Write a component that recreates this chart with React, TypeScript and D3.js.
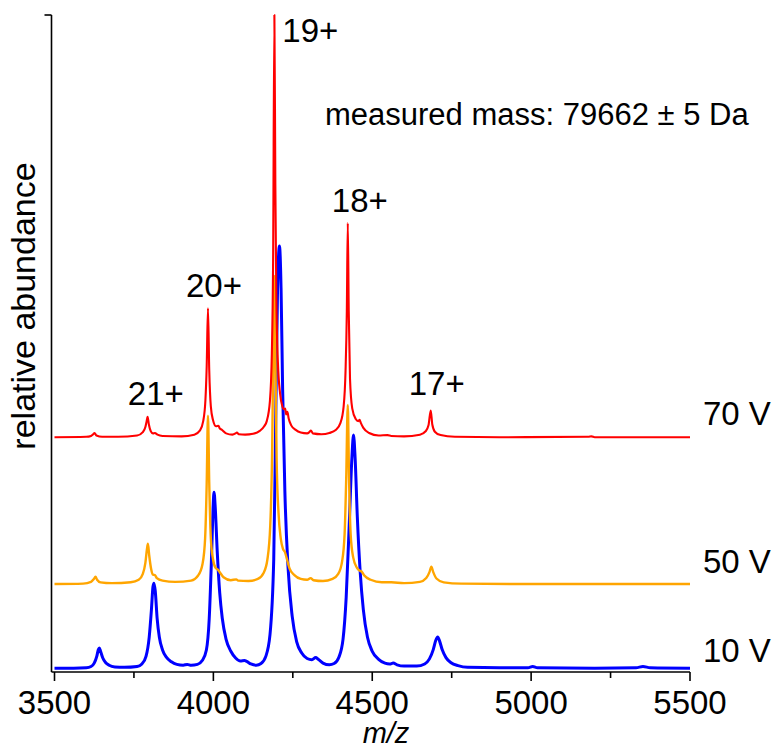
import * as d3 from 'd3'

// m/z range and the relative-abundance range of the stacked traces
const X_DOMAIN: [number, number] = [3500, 5500]
const Y_DOMAIN: [number, number] = [-0.7, 154.6]
const MAJOR_TICKS = [3500, 4000, 4500, 5000, 5500]
const MINOR_TICKS = [3750, 4250, 4750, 5250]

// 10 V trace, [m/z, abundance]
const SPEC_10V: [number, number][] = [
  [3500, 0.2], [3560, 0.2], [3600, 0.3], [3615, 0.6], [3625, 1.4], [3633, 3.0], [3638, 4.6], [3641, 5.0],
  [3645, 4.2], [3652, 2.6], [3660, 1.6], [3672, 0.9], [3690, 0.5], [3720, 0.4], [3760, 0.6], [3775, 1.2],
  [3788, 3.0], [3798, 7.5], [3805, 14], [3810, 19.5], [3813, 20.3], [3817, 18.5], [3823, 12], [3830, 7.5],
  [3840, 4.5], [3852, 2.8], [3868, 1.7], [3885, 1.1], [3905, 0.9], [3918, 1.1], [3930, 0.9], [3950, 1.1],
  [3965, 2.0], [3978, 4.5], [3987, 12], [3994, 26], [3999, 38], [4002, 41.8], [4006, 38], [4012, 28],
  [4020, 18], [4028, 12], [4040, 7], [4055, 4.2], [4070, 2.6], [4085, 1.9], [4098, 2.0], [4105, 1.8],
  [4118, 1.2], [4135, 0.9], [4150, 1.3], [4165, 3.0], [4178, 8], [4190, 26], [4196, 58], [4202, 90],
  [4208, 100], [4213, 90], [4218, 66], [4225, 42], [4235, 24], [4248, 12.5], [4262, 6.5], [4278, 3.8],
  [4295, 2.5], [4310, 2.2], [4322, 2.7], [4330, 2.3], [4345, 1.4], [4365, 1.0], [4380, 1.3], [4395, 2.8],
  [4408, 7], [4418, 17], [4428, 35], [4436, 50], [4441, 55.3], [4446, 50], [4453, 36], [4462, 23],
  [4472, 14], [4485, 7.5], [4500, 4.2], [4520, 2.3], [4540, 1.4], [4555, 1.2], [4566, 1.4], [4578, 1.0],
  [4600, 0.7], [4640, 0.7], [4665, 1.2], [4680, 2.4], [4692, 4.6], [4700, 6.8], [4706, 7.6], [4712, 6.6],
  [4720, 4.6], [4732, 2.7], [4748, 1.5], [4770, 0.8], [4800, 0.4], [4900, 0.3], [4990, 0.3], [5005, 0.6],
  [5020, 0.3], [5200, 0.2], [5330, 0.3], [5352, 0.6], [5375, 0.3], [5500, 0.2],
]

// 50 V trace
const SPEC_50V: [number, number][] = [
  [3500, 0.2], [3590, 0.3], [3615, 0.7], [3624, 1.4], [3629, 1.9], [3634, 1.2], [3645, 0.6], [3680, 0.4],
  [3740, 0.6], [3765, 1.2], [3778, 2.6], [3786, 5.2], [3791, 8.5], [3794, 9.7], [3798, 7.0], [3804, 3.8],
  [3810, 2.4], [3816, 2.3], [3822, 1.6], [3840, 1.0], [3880, 0.7], [3930, 1.0], [3952, 2.2], [3966, 5],
  [3974, 11], [3979, 24], [3983, 40], [3987, 24], [3992, 11], [3999, 6], [4007, 4], [4014, 3.6],
  [4020, 3.0], [4032, 1.8], [4055, 1.1], [4072, 1.3], [4078, 1.0], [4110, 0.9], [4140, 1.4], [4158, 2.8],
  [4170, 6], [4179, 14], [4185, 32], [4189, 58], [4192, 73], [4195, 55], [4199, 30], [4205, 17],
  [4212, 11], [4219, 8.5], [4225, 7.8], [4230, 6.5], [4240, 3.8], [4255, 2.3], [4275, 1.4], [4295, 1.2],
  [4306, 1.6], [4315, 1.1], [4345, 0.9], [4375, 1.4], [4393, 2.6], [4405, 5.5], [4413, 12], [4418, 25],
  [4423, 42.5], [4427, 25], [4432, 12], [4440, 6.5], [4452, 4.0], [4462, 3.3], [4467, 3.1], [4475, 2.2],
  [4495, 1.2], [4530, 0.6], [4560, 0.6], [4600, 0.4], [4650, 0.7], [4670, 1.6], [4680, 3.0], [4686, 4.3],
  [4692, 3.0], [4702, 1.5], [4725, 0.6], [4780, 0.3], [5000, 0.2], [5500, 0.2],
]

// 70 V trace
const SPEC_70V: [number, number][] = [
  [3500, 0.2], [3600, 0.3], [3615, 0.5], [3622, 0.9], [3626, 1.2], [3632, 0.6], [3650, 0.3], [3700, 0.3],
  [3760, 0.6], [3778, 1.4], [3786, 2.6], [3790, 4.0], [3793, 5.0], [3797, 3.2], [3803, 1.6], [3810, 1.1],
  [3816, 1.2], [3824, 0.8], [3840, 0.5], [3900, 0.4], [3940, 0.8], [3958, 1.8], [3968, 4], [3975, 9],
  [3979, 17], [3983, 30.7], [3987, 16], [3992, 7.5], [3999, 4.2], [4008, 2.8], [4016, 2.9], [4020, 2.3],
  [4026, 2.0], [4040, 1.1], [4060, 0.8], [4070, 1.1], [4074, 1.3], [4080, 0.9], [4100, 0.8], [4125, 1.0],
  [4146, 1.7], [4160, 2.8], [4168, 4.0], [4178, 8.8], [4184, 20], [4188, 42], [4192, 100], [4195, 60],
  [4198, 34], [4203, 18], [4210, 10.5], [4217, 7.5], [4222, 6.8], [4226, 7.0], [4229, 5.6], [4233, 6.2],
  [4237, 4.6], [4245, 3.0], [4258, 2.0], [4275, 1.3], [4295, 1.1], [4302, 1.4], [4307, 1.8], [4313, 1.1],
  [4340, 0.9], [4365, 1.2], [4385, 1.9], [4400, 3.6], [4410, 7.5], [4416, 16], [4420, 30], [4423, 50.8],
  [4426, 30], [4430, 14], [4437, 7], [4448, 4.5], [4456, 4.0], [4460, 4.3], [4464, 3.6], [4472, 2.4],
  [4490, 1.2], [4520, 0.6], [4548, 0.7], [4560, 0.5], [4600, 0.4], [4650, 0.8], [4668, 1.6], [4677, 3.0],
  [4684, 6.5], [4689, 3.2], [4697, 1.5], [4715, 0.7], [4760, 0.3], [4900, 0.2], [5180, 0.3], [5190, 0.4],
  [5200, 0.2], [5500, 0.2],
]

const SERIES_NAMES = ['10 V', '50 V', '70 V']
const SERIES_DATA = [SPEC_10V, SPEC_50V, SPEC_70V]
const SERIES_OFFSETS = [0, 19.9, 54.6]
const SERIES_COLORS = ['#0000ff', '#ffa500', '#ff0000']
const SERIES_WIDTHS = [3, 2.4, 2.1]
const SERIES_LABEL_DY = [-7, -12, -13]

// charge-state annotations: [label, m/z of text centre, abundance of text baseline]
const CHARGE_LABELS: [string, number, number][] = [
  ['21+', 3819, 62.4],
  ['20+', 4002, 88.0],
  ['19+', 4305, 148.2],
  ['18+', 4461, 108.0],
  ['17+', 4703, 64.8],
]

const FONT = '"Liberation Sans", Arial, sans-serif'

export default function App() {
  const W = 779
  const H = 751
  const x = d3.scaleLinear().domain(X_DOMAIN).range([54.5, 690])
  const y = d3.scaleLinear().domain(Y_DOMAIN).range([672, 15])
  const x0 = 51.5
  const yAxis = y(Y_DOMAIN[0])

  return (
    <svg width={W} height={H} style={{ position: 'absolute', left: 0, top: 0, background: '#fff' }}
      fontFamily={FONT}>
      {SERIES_DATA.map((pts, i) => {
        const line = d3.line<[number, number]>()
          .x(d => x(d[0]))
          .y(d => y(d[1] + SERIES_OFFSETS[i]))
          .curve(d3.curveMonotoneX)
        return (
          <path key={SERIES_NAMES[i]} d={line(pts) || ''} fill="none"
            stroke={SERIES_COLORS[i]} strokeWidth={SERIES_WIDTHS[i]} strokeLinejoin="round" />
        )
      })}

      {/* axes */}
      <line x1={x0} x2={x0} y1={y(Y_DOMAIN[1])} y2={yAxis} stroke="#000" strokeWidth={1.6} />
      <line x1={x0 - 7} x2={x0} y1={y(Y_DOMAIN[1])} y2={y(Y_DOMAIN[1])} stroke="#000" strokeWidth={1.6} />
      <line x1={x0} x2={x(X_DOMAIN[1])} y1={yAxis} y2={yAxis} stroke="#000" strokeWidth={1.6} />
      {MAJOR_TICKS.map(t => (
        <g key={t}>
          <line x1={x(t)} x2={x(t)} y1={yAxis} y2={yAxis + 9} stroke="#000" strokeWidth={1.6} />
          <text x={x(t)} y={714} textAnchor="middle" fontSize={33}>{t}</text>
        </g>
      ))}
      {MINOR_TICKS.map(t => (
        <line key={t} x1={x(t)} x2={x(t)} y1={yAxis} y2={yAxis + 6} stroke="#000" strokeWidth={1.6} />
      ))}
      <text x={386} y={743} textAnchor="middle" fontSize={29} fontStyle="italic">m/z</text>
      <text transform={`translate(35,${306}) rotate(-90)`} textAnchor="middle" fontSize={34}>
        relative abundance
      </text>

      {/* trace labels */}
      {SERIES_NAMES.map((n, i) => (
        <text key={n} x={703} y={y(SERIES_OFFSETS[i]) + SERIES_LABEL_DY[i]} fontSize={33}>{n}</text>
      ))}

      {CHARGE_LABELS.map(([t, mz, v]) => (
        <text key={t} x={x(mz)} y={y(v)} textAnchor="middle" fontSize={33}>{t}</text>
      ))}

      <text x={325} y={125} fontSize={31}>measured mass: 79662 ± 5 Da</text>
    </svg>
  )
}
